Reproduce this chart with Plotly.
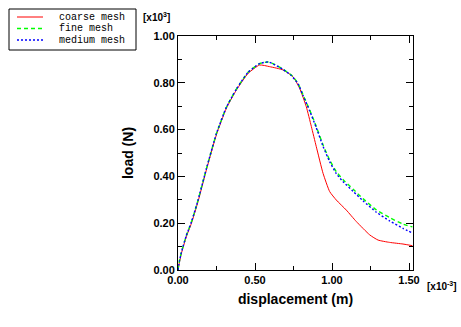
import plotly.graph_objects as go

# displacement in units of 1e-3 m, load in units of 1e3 N
coarse_x = [0.0, 0.01, 0.022, 0.054, 0.087, 0.13, 0.184, 0.249, 0.314, 0.379, 0.455, 0.53, 0.595,
            0.682, 0.747, 0.79, 0.833, 0.866, 0.898, 0.942, 0.985, 1.028, 1.093, 1.158, 1.245,
            1.299, 1.374, 1.461, 1.522]
coarse_y = [0.0, 0.035, 0.071, 0.142, 0.199, 0.292, 0.427, 0.577, 0.691, 0.769, 0.84, 0.876, 0.869,
            0.855, 0.826, 0.776, 0.698, 0.613, 0.527, 0.413, 0.335, 0.299, 0.256, 0.207, 0.15,
            0.128, 0.118, 0.111, 0.104]

fine_x = [0.0, 0.01, 0.022, 0.054, 0.087, 0.13, 0.184, 0.249, 0.314, 0.379, 0.455, 0.53, 0.584,
          0.63, 0.682, 0.736, 0.779, 0.812, 0.855, 0.898, 0.942, 0.985, 1.028, 1.071, 1.136,
          1.201, 1.288, 1.374, 1.461, 1.522]
fine_y = [0.0, 0.04, 0.075, 0.147, 0.205, 0.298, 0.432, 0.582, 0.695, 0.773, 0.845, 0.882, 0.889,
          0.878, 0.858, 0.833, 0.798, 0.748, 0.684, 0.613, 0.534, 0.47, 0.42, 0.387, 0.346,
          0.305, 0.257, 0.224, 0.196, 0.184]

medium_x = [0.0, 0.01, 0.022, 0.054, 0.087, 0.13, 0.184, 0.249, 0.314, 0.379, 0.455, 0.53, 0.584,
            0.63, 0.682, 0.736, 0.779, 0.812, 0.855, 0.898, 0.942, 0.985, 1.028, 1.071, 1.136,
            1.201, 1.288, 1.374, 1.461, 1.522]
medium_y = [0.0, 0.04, 0.075, 0.147, 0.205, 0.298, 0.432, 0.582, 0.695, 0.773, 0.845, 0.882, 0.889,
            0.877, 0.857, 0.831, 0.796, 0.746, 0.68, 0.608, 0.528, 0.463, 0.412, 0.378, 0.337,
            0.296, 0.247, 0.21, 0.178, 0.158]

series_names = ["coarse mesh", "fine mesh", "medium mesh"]
series_colors = ["#ff0000", "#00ff00", "#0000ff"]
series_dash = ["solid", "4px,3px", "2px,2px"]
series_width = [1, 1.4, 1.4]
series_x = [coarse_x, fine_x, medium_x]
series_y = [coarse_y, fine_y, medium_y]

fig = go.Figure()
for name, col, dash, w, xs, ys in zip(series_names, series_colors, series_dash, series_width, series_x, series_y):
    fig.add_trace(go.Scatter(x=xs, y=ys, mode="lines", name=name, showlegend=False,
                             line=dict(color=col, width=w, dash=dash, shape="spline", smoothing=0.5)))

# plot area in pixels: x 178..413, y 36..270
L, R, T, B = 178, 413, 36, 270
def px(x):
    return (x - L) / (R - L)
def py(y):
    return (B - y) / (B - T)

# manual legend box (compact, like the reference)
fig.add_shape(type="rect", xref="paper", yref="paper", x0=px(9), x1=px(136), y0=py(50), y1=py(9),
              line=dict(color="black", width=1), fillcolor="white", layer="above")
for i, (name, col, dash, w) in enumerate(zip(series_names, series_colors, series_dash, series_width)):
    yy = 17 + i * 11.5
    fig.add_shape(type="line", xref="paper", yref="paper", x0=px(17), x1=px(43), y0=py(yy), y1=py(yy),
                  line=dict(color=col, width=w, dash=dash))
    fig.add_annotation(text=name, xref="paper", yref="paper", x=px(57), y=py(yy),
                       xanchor="left", yanchor="middle", showarrow=False,
                       font=dict(family="Liberation Mono", size=10, color="black"))

tickfont = dict(family="Liberation Sans", size=11, color="black")
fig.update_layout(
    width=461, height=327,
    margin=dict(l=L, r=461 - R, t=T, b=327 - B),
    paper_bgcolor="white", plot_bgcolor="white",
    showlegend=False,
    xaxis=dict(range=[0, 1.526], tickvals=[0, 0.5, 1.0, 1.5],
               ticktext=["<b>0.00</b>", "<b>0.50</b>", "<b>1.00</b>", "<b>1.50</b>"],
               ticks="inside", ticklen=7, tickwidth=1, tickcolor="black",
               minor=dict(tickvals=[0.25, 0.75, 1.25], ticks="inside", ticklen=4, tickcolor="black"),
               showline=True, linecolor="black", linewidth=1, mirror="ticks",
               showgrid=False, zeroline=False, tickfont=tickfont,
               title=dict(text="<b>displacement (m)</b>", font=dict(family="Liberation Sans", size=14, color="black"),
                          standoff=8)),
    yaxis=dict(range=[0, 1.0], tickvals=[0, 0.2, 0.4, 0.6, 0.8, 1.0],
               ticktext=["<b>0.00</b>", "<b>0.20</b>", "<b>0.40</b>", "<b>0.60</b>", "<b>0.80</b>", "<b>1.00</b>"],
               ticks="inside", ticklen=7, tickwidth=1, tickcolor="black",
               minor=dict(tickvals=[0.1, 0.3, 0.5, 0.7, 0.9], ticks="inside", ticklen=4, tickcolor="black"),
               showline=True, linecolor="black", linewidth=1, mirror="ticks",
               showgrid=False, zeroline=False, tickfont=tickfont,
               title=dict(text="<b>load (N)</b>", font=dict(family="Liberation Sans", size=14, color="black"),
                          standoff=16)),
)
fig.add_annotation(text="<b>[x10<sup>3</sup>]</b>", xref="paper", yref="paper", x=px(172), y=py(25),
                   xanchor="right", yanchor="bottom", showarrow=False,
                   font=dict(family="Liberation Sans", size=10, color="black"))
fig.add_annotation(text="<b>[x10<sup>-3</sup>]</b>", xref="paper", yref="paper", x=px(425), y=py(278),
                   xanchor="left", yanchor="top", showarrow=False,
                   font=dict(family="Liberation Sans", size=10, color="black"))
fig.write_html("out.html")
